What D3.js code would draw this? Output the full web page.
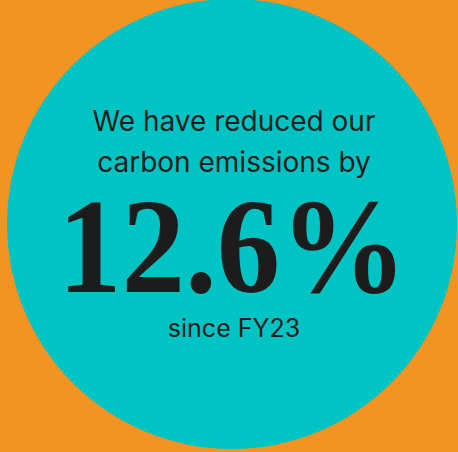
<!DOCTYPE html>
<html>
<head>
<meta charset="utf-8">
<script src="https://cdn.jsdelivr.net/npm/d3@7"></script>
<style>
  html, body { margin: 0; padding: 0; background: #f39322; }
  svg { display: block; }
</style>
</head>
<body>
<script>
var width = 458,
    height = 452;

// headline pieces
var introLines = ["We have reduced our", "carbon emissions by"];
var reduction = [12.6];
var sinceLabel = ["since FY23"];

var svg = d3.select("body").append("svg")
    .attr("width", width)
    .attr("height", height);

svg.append("rect")
    .attr("width", width)
    .attr("height", height)
    .attr("fill", "#f39322");

svg.append("circle")
    .attr("cx", 232)
    .attr("cy", 224)
    .attr("r", 225)
    .attr("fill", "#00c4c4");

var cx = 234;

svg.selectAll("text.intro")
    .data(introLines)
  .enter().append("text")
    .attr("class", "intro")
    .attr("x", cx)
    .attr("y", function(d, i) { return 131 + i * 41; })
    .attr("text-anchor", "middle")
    .attr("font-family", "Inter, 'Noto Sans', sans-serif")
    .attr("font-size", 28)
    .attr("fill", "#1c1c1c")
    .text(function(d) { return d; });

var fmt = d3.format(".1f");

svg.selectAll("text.big")
    .data(reduction)
  .enter().append("text")
    .attr("class", "big")
    .attr("x", 58)
    .attr("y", 292)
    .attr("font-family", "'Liberation Serif', 'DejaVu Serif', serif")
    .attr("font-weight", "bold")
    .attr("font-size", 136)
    .attr("textLength", 349)
    .attr("lengthAdjust", "spacingAndGlyphs")
    .attr("fill", "#1c1c1c")
    .text(function(d) { return fmt(d) + "%"; });

svg.selectAll("text.since")
    .data(sinceLabel)
  .enter().append("text")
    .attr("class", "since")
    .attr("x", cx)
    .attr("y", 337)
    .attr("text-anchor", "middle")
    .attr("font-family", "Inter, 'Noto Sans', sans-serif")
    .attr("font-size", 25)
    .attr("fill", "#1c1c1c")
    .text(function(d) { return d; });
</script>
</body>
</html>
